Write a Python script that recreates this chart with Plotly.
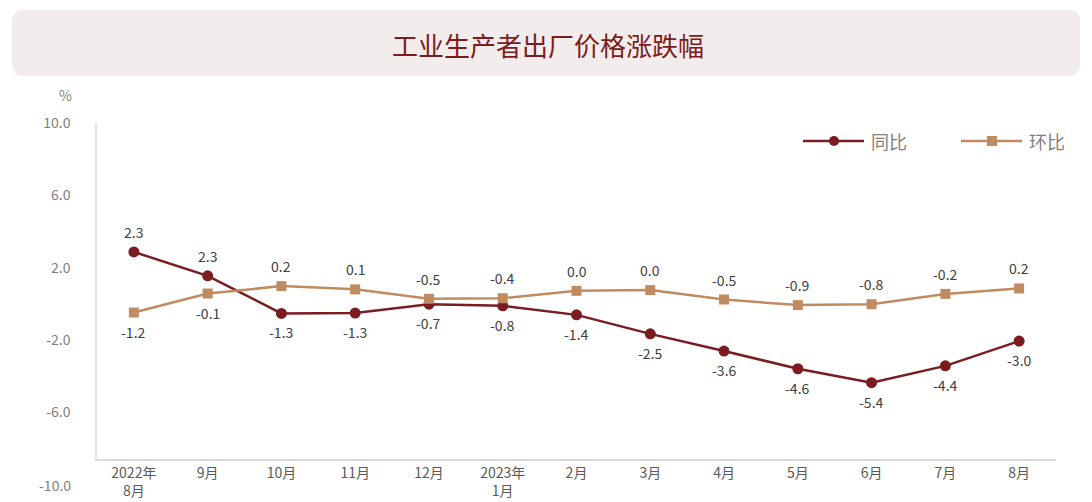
import plotly.graph_objects as go

# 月份类别
months = ["2022年<br>8月", "9月", "10月", "11月", "12月", "2023年<br>1月",
          "2月", "3月", "4月", "5月", "6月", "7月", "8月"]

# 图中点的位置（按坐标轴读出）
yoy_pos = [2.87, 1.55, -0.53, -0.51, -0.02, -0.11, -0.61, -1.66, -2.61, -3.59, -4.36, -3.43, -2.06]
mom_pos = [-0.48, 0.57, 0.98, 0.80, 0.28, 0.31, 0.72, 0.76, 0.24, -0.07, -0.02, 0.55, 0.85]

# 数据标签
yoy_labels = ["2.3", "2.3", "-1.3", "-1.3", "-0.7", "-0.8", "-1.4", "-2.5", "-3.6", "-4.6", "-5.4", "-4.4", "-3.0"]
mom_labels = ["-1.2", "-0.1", "0.2", "0.1", "-0.5", "-0.4", "0.0", "0.0", "-0.5", "-0.9", "-0.8", "-0.2", "0.2"]
yoy_above = [True, True] + [False] * 11
mom_above = [False, False] + [True] * 11

y_ticks = [10, 6, 2, -2, -6]

RED = "#7a1c20"
TAN = "#c18b61"
FONT = "Noto Sans CJK SC"

fig = go.Figure()
fig.add_trace(go.Scatter(x=months, y=yoy_pos, mode="lines+markers", name="同比",
                         line=dict(color=RED, width=2.5),
                         marker=dict(symbol="circle", size=11, color=RED),
                         showlegend=False))
fig.add_trace(go.Scatter(x=months, y=mom_pos, mode="lines+markers", name="环比",
                         line=dict(color=TAN, width=2.5),
                         marker=dict(symbol="square", size=10, color=TAN),
                         showlegend=False))

annotations = []
for xs, ys, labels, above in [(months, yoy_pos, yoy_labels, yoy_above),
                              (months, mom_pos, mom_labels, mom_above)]:
    for m, v, t, a in zip(xs, ys, labels, above):
        annotations.append(dict(x=m, y=v, text=t, showarrow=False,
                                yshift=20 if a else -19,
                                font=dict(family=FONT, size=14, color="#404040")))

# 单位 与 -10.0 刻度
annotations.append(dict(xref="paper", yref="paper", x=0, y=1, xshift=-32, yshift=28,
                        xanchor="center", yanchor="middle",
                        text="%", showarrow=False,
                        font=dict(family=FONT, size=14, color="#7f7f7f")))
annotations.append(dict(xref="paper", yref="paper", x=0, y=0, xanchor="right",
                        yanchor="middle", xshift=-24, yshift=-26,
                        text="-10.0", showarrow=False,
                        font=dict(family=FONT, size=14, color="#7f7f7f")))

# 标题
annotations.append(dict(xref="paper", yref="paper", x=0.5, y=1, xshift=-29, yshift=79,
                        xanchor="center", yanchor="middle",
                        text="工业生产者出厂价格涨跌幅", showarrow=False,
                        font=dict(family=FONT, size=26, color=RED)))

# 图例
for name, left in [("同比", 706), ("环比", 864)]:
    annotations.append(dict(xref="paper", yref="paper", x=0, y=1, xanchor="left",
                            yanchor="middle", xshift=left + 66, yshift=-18,
                            text=name, showarrow=False,
                            font=dict(family=FONT, size=18, color="#7f7f7f")))

shapes = []
# 标题底板（圆角矩形，像素坐标，相对绘图区左上角）
r = 12
x0, x1, yt, yb = -85, 983, 113, 47
path = (f"M{x0 + r},{yt} L{x1 - r},{yt} Q{x1},{yt} {x1},{yt - r} "
        f"L{x1},{yb + r} Q{x1},{yb} {x1 - r},{yb} L{x0 + r},{yb} "
        f"Q{x0},{yb} {x0},{yb + r} L{x0},{yt - r} Q{x0},{yt} {x0 + r},{yt} Z")
shapes.append(dict(type="path", path=path, xref="paper", yref="paper",
                   xsizemode="pixel", ysizemode="pixel", xanchor=0, yanchor=1,
                   fillcolor="#f3ecec", line=dict(width=0), layer="below"))

for color, left, sym in [(RED, 706, "circle"), (TAN, 864, "square")]:
    shapes.append(dict(type="line", xref="paper", yref="paper",
                       xsizemode="pixel", ysizemode="pixel", xanchor=0, yanchor=1,
                       x0=left, x1=left + 61, y0=-18, y1=-18,
                       line=dict(color=color, width=2.5)))
    shapes.append(dict(type="circle" if sym == "circle" else "rect",
                       xref="paper", yref="paper",
                       xsizemode="pixel", ysizemode="pixel", xanchor=0, yanchor=1,
                       x0=left + 26, x1=left + 36, y0=-23, y1=-13,
                       fillcolor=color, line=dict(width=0)))

# 页面默认有 8px 边距，画布相应缩小
fig.update_layout(
    width=1084, height=494,
    margin=dict(l=89, r=36, t=115, b=43),
    paper_bgcolor="white", plot_bgcolor="white",
    font=dict(family=FONT),
    annotations=annotations,
    shapes=shapes,
    xaxis=dict(showgrid=False, showline=True, linecolor="#d9d9d9", linewidth=1.5,
               ticks="", tickfont=dict(family=FONT, size=14, color="#595959"),
               range=[-0.5, 12.5], fixedrange=True, automargin=False),
    yaxis=dict(showgrid=False, showline=True, linecolor="#e6e6e6", linewidth=1.5,
               zeroline=False, range=[-8.58, 10], tickvals=y_ticks,
               ticktext=[f"{v:.1f}" for v in y_ticks], ticks="",
               ticklabelstandoff=22, automargin=False,
               tickfont=dict(family=FONT, size=14, color="#7f7f7f")),
)

fig.write_html("out.html")
